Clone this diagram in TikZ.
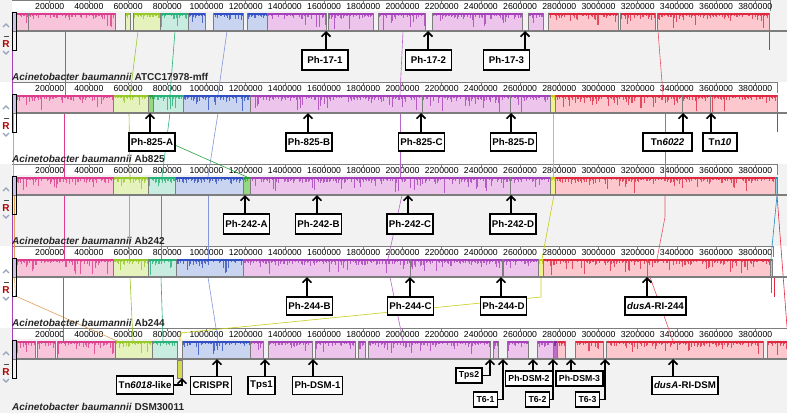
\documentclass[tikz,border=0pt]{standalone}
\usepackage{fontspec}
\setmainfont{Liberation Sans}
\usetikzlibrary{arrows.meta}

\definecolor{pkF}{RGB}{248,196,218}
\definecolor{pkD}{RGB}{222,60,140}
\definecolor{ygF}{RGB}{230,242,188}
\definecolor{ygD}{RGB}{150,200,40}
\definecolor{gnF}{RGB}{150,215,130}
\definecolor{gnD}{RGB}{40,160,60}
\definecolor{tlF}{RGB}{200,236,224}
\definecolor{tlD}{RGB}{40,178,120}
\definecolor{blF}{RGB}{200,212,240}
\definecolor{blD}{RGB}{50,80,195}
\definecolor{ppF}{RGB}{236,196,236}
\definecolor{ppD}{RGB}{165,65,185}
\definecolor{dpF}{RGB}{190,110,200}
\definecolor{dpD}{RGB}{130,40,150}
\definecolor{ywF}{RGB}{240,240,140}
\definecolor{ywD}{RGB}{200,205,20}
\definecolor{rdF}{RGB}{252,200,206}
\definecolor{rdD}{RGB}{225,40,65}
\definecolor{cyF}{RGB}{150,210,230}
\definecolor{cyD}{RGB}{30,140,190}
\definecolor{tanD}{RGB}{225,160,90}
\definecolor{panel}{RGB}{242,242,242}
\definecolor{edge}{RGB}{125,125,125}
\definecolor{ctrl}{RGB}{150,160,190}
\definecolor{lcbL}{RGB}{205,195,230}

% one block of a genome track: track top, left, right, colour prefix
\newcommand{\lcb}[4]{%
  \fill[#4F] (#2,#1+13) rectangle (#3,#1+31);
  \fill[#4D] (#2,#1+13) rectangle (#3,#1+15);
  \pgfmathtruncatemacro\nsp{max(1,(#3-#2)/1.5)}
  \foreach \k in {1,...,\nsp}{
    \pgfmathsetmacro\sx{#2+1.5*\k-0.75}
    \pgfmathsetmacro\sl{1+4*rnd^2+12*rnd^9}
    \draw[#4D, line width=0.35pt, opacity=0.8] (\sx,#1+14) -- ++(0,\sl);
  }
  \draw[edge, line width=0.6pt] (#2,#1+13) -- (#2,#1+31) (#3,#1+13) -- (#3,#1+31);
}

% ruler of a track: track top, right end
\newcommand{\ruler}[2]{%
  \fill[white] (12,#1) rectangle (#2,#1+11);
  \draw[edge, line width=0.8pt] (12,#1+0.4) -- (#2,#1+0.4) -- (#2,#1+11);
  \foreach \k in {1,...,19}{
    \draw[edge, line width=0.5pt] ({10.5+39.2*\k},#1) -- ++(0,3);
    \node[num] (n#1-\k) at ({10.5+39.2*\k},#1+6.5) {\number\numexpr\k*200000\relax};
  }
}

% buttons at the left of a track
\newcommand{\ctrls}[1]{%
  \draw[ctrl, line width=1.2pt] (3,#1+27) -- (6,#1+24) -- (9,#1+27);
  \draw[black!70, line width=0.9pt] (3.5,#1+36) -- (8.5,#1+36);
  \node[font=\fontsize{10}{10}\selectfont\bfseries, text=red!70!black, inner sep=0pt] (ctl#1) at (6,#1+44) {R};
  \draw[ctrl, line width=1.2pt] (3,#1+51) -- (6,#1+54) -- (9,#1+51);
  \fill[lcbL] (12,#1+13) rectangle (16,#1+31);
  \draw[line width=0.6pt] (12,#1+12) rectangle (16,#1+50);
}

\begin{document}
\begin{tikzpicture}[x=1pt, y=-1pt,
  lbl/.style={draw, line width=1.5pt, fill=white, font=\fontsize{9.7}{11}\selectfont\bfseries, inner xsep=2pt, inner ysep=0pt, minimum height=18pt},
  lbls/.style={lbl, font=\fontsize{8.7}{10}\selectfont\bfseries, inner xsep=3pt, minimum height=15pt},
  arr/.style={line width=1.6pt, -{Straight Barb[length=4.5pt,width=9pt]}},
  lk/.style={line width=0.6pt},
  spc/.style={anchor=base west, inner sep=0pt, font=\fontsize{10}{12}\selectfont\bfseries, text=black!85},
  num/.style={font=\fontsize{8.7}{10}\selectfont, inner sep=0pt}
]
\useasboundingbox (0,0) rectangle (787,413);
\pgfmathsetseed{11}

% panels
\fill[white] (0,0) rectangle (787,413);
\fill[panel] (0,0) rectangle (787,82);
\fill[panel] (0,164) rectangle (787,246);
\fill[panel] (0,328) rectangle (787,413);

% rulers
\ruler{0}{770}
\ruler{82}{777}
\ruler{164}{777}
\ruler{246}{773}
\ruler{328}{787}

% connecting lines 1 -> 2
\draw[lk, ppD] (12.5,31) -- (12.5,95);
\draw[lk, pkD] (65,31) -- (65,95);
\draw[lk, ygD] (138,31) -- (130,95);
\draw[lk, tlD] (175,31) -- (170,95);
\draw[lk, blD!60] (227,31) -- (218,95);
\draw[lk, ppD!80] (403,31) -- (400,95);
\draw[lk, rdD!80] (658,31) -- (663,95);
\draw[lk, rdD] (769,31) -- (769,50);
% connecting lines 2 -> 3
\draw[lk, tanD] (13.5,113) -- (13.5,177);
\draw[lk, pkD] (64,113) -- (64,177);
\draw[lk, ygD] (129,113) -- (130,177);
\draw[lk, tlD] (170,113) -- (162,177);
\draw[lk, blD!60] (218,113) -- (208,177);
\draw[lk, gnD] (150,113) -- (150,134) -- (247,177);
\draw[lk, ppD!80] (400,113) -- (400,177);
\draw[lk, ywD] (553,113) -- (553,177);
\draw[lk, rdD!80] (665,113) -- (665,177);
\draw[lk, rdD] (777,113) -- (777,132);
% connecting lines 3 -> 4
\draw[lk, ppD] (12.5,195) -- (12.5,259);
\draw[lk, tanD] (14.5,195) -- (14.5,259);
\draw[lk, pkD] (64,195) -- (64,259);
\draw[lk, ygD] (129,195) -- (129,259);
\draw[lk, tlD] (161,195) -- (161,259);
\draw[lk, blD!60] (208,195) -- (208,259);
\draw[lk, ppD!80] (402,195) -- (388,259);
\draw[lk, ywD] (554,195) -- (542,259);
\draw[lk, rdD!80] (665,195) -- (665,217) -- (657,259);
\draw[lk, cyD] (777,195) -- (772,247) -- (771,259);
\draw[lk, rdD] (777,195) -- (787,327);
% connecting lines 4 -> 5
\draw[lk, ppD] (12.5,277) -- (12.5,341);
\draw[lk, tanD] (14.5,277) -- (15.5,296) -- (117,341);
\draw[lk, pkD] (63,277) -- (63,341);
\draw[lk, ygD] (130,277) -- (133,341);
\draw[lk, tlD] (161,277) -- (163,341);
\draw[lk, blD!60] (208,277) -- (218,341);
\draw[lk, ppD!80] (390,277) -- (403,341);
\draw[lk, ywD] (541,277) -- (541,297) -- (180,333) -- (180,341);
\draw[lk, rdD!80] (650,277) -- (673,341);
\draw[lk, cyD] (771,277) -- (771,293);
\draw[lk, rdD] (774,277) -- (774,297);

% track 1: ATCC17978-mff
\lcb{0}{13}{28}{pk} \lcb{0}{28}{115}{pk}
\lcb{0}{125}{130}{yg} \lcb{0}{133}{160}{yg}
\lcb{0}{160}{188}{tl}
\lcb{0}{188}{205}{bl} \lcb{0}{213}{243}{bl} \lcb{0}{247}{267}{bl}
\lcb{0}{267}{326}{pp} \lcb{0}{328.5}{373}{pp} \lcb{0}{378}{425}{pp}
\lcb{0}{432}{522}{pp} \lcb{0}{528}{543}{pp}
\lcb{0}{548}{618}{rd} \lcb{0}{620}{655}{rd} \lcb{0}{657}{769}{rd}
\draw[edge, line width=1.4pt] (12,31) -- (787,31);

% track 2: Ab825
\lcb{82}{15}{113}{pk}
\lcb{82}{113}{148}{yg} \lcb{82}{148}{153}{gn}
\lcb{82}{153}{183}{tl}
\lcb{82}{183}{250}{bl}
\lcb{82}{250}{422}{pp} \lcb{82}{422}{510}{pp} \lcb{82}{510}{550}{pp}
\lcb{82}{550}{555}{yw}
\lcb{82}{555}{682}{rd} \lcb{82}{682}{710}{rd} \lcb{82}{710}{777}{rd}
\draw[edge, line width=1.4pt] (12,113) -- (787,113);

% track 3: Ab242
\lcb{164}{13}{113}{pk}
\lcb{164}{113}{148}{yg}
\lcb{164}{148}{175}{tl}
\lcb{164}{175}{243}{bl} \lcb{164}{243}{250}{gn}
\lcb{164}{250}{510}{pp} \lcb{164}{510}{550}{pp}
\lcb{164}{550}{555}{yw}
\lcb{164}{555}{775}{rd} \lcb{164}{775}{777}{cy}
\draw[edge, line width=1.4pt] (12,195) -- (787,195);

% track 4: Ab244
\lcb{246}{13}{113}{pk}
\lcb{246}{113}{148}{yg}
\lcb{246}{148}{176}{tl}
\lcb{246}{176}{243}{bl}
\lcb{246}{243}{410}{pp} \lcb{246}{410}{502}{pp} \lcb{246}{503.5}{538}{pp}
\lcb{246}{538}{543}{yw}
\lcb{246}{543}{647}{rd} \lcb{246}{647}{770}{rd} \lcb{246}{770}{772}{cy}
\draw[edge, line width=1.4pt] (12,277) -- (787,277);

% track 5: DSM30011
\lcb{328}{12}{35}{pk} \lcb{328}{37}{55}{pk} \lcb{328}{57}{115}{pk}
\lcb{328}{115}{152}{yg}
\lcb{328}{152}{177}{tl}
\lcb{328}{182}{250}{bl}
\lcb{328}{250}{263}{pp} \lcb{328}{268}{312}{pp} \lcb{328}{315}{355}{pp}
\lcb{328}{358}{365}{pp} \lcb{328}{368}{490}{pp} \lcb{328}{493}{498}{pp}
\lcb{328}{507}{528}{pp} \lcb{328}{537}{553}{pp} \lcb{328}{553}{557}{dp}
\lcb{328}{557}{565}{rd} \lcb{328}{575}{603}{rd} \lcb{328}{606}{763}{rd}
\lcb{328}{767}{787}{rd}
\draw[edge, line width=1.4pt] (12,359) -- (787,359);
\fill[ywD!75] (177,360) rectangle (182,378);
\draw[edge, line width=0.6pt] (177,360) rectangle (182,378);

% buttons
\ctrls{0} \ctrls{82} \ctrls{164} \ctrls{246} \ctrls{328}

% genome names
\node[spc] (g17978) at (12,80.5) {\textit{Acinetobacter baumannii} ATCC17978-mff};
\node[spc] (g825) at (12,162.5) {\textit{Acinetobacter baumannii} Ab825};
\node[spc] (g242) at (12,244.5) {\textit{Acinetobacter baumannii} Ab242};
\node[spc] (g244) at (12,326.5) {\textit{Acinetobacter baumannii} Ab244};
\node[spc] (gdsm) at (12,410) {\textit{Acinetobacter baumannii} DSM30011};

% sites on the tracks
\coordinate (s171) at (326,31);
\coordinate (s172) at (428,31);
\coordinate (s173) at (525,31);
\coordinate (s825a) at (150,113);
\coordinate (s825b) at (308,113);
\coordinate (s825c) at (421,113);
\coordinate (s825d) at (511,113);
\coordinate (s6022) at (683,113);
\coordinate (s10) at (711,113);
\coordinate (s242a) at (245,195);
\coordinate (s242b) at (317,195);
\coordinate (s242c) at (408,195);
\coordinate (s242d) at (511,195);
\coordinate (s244b) at (307,277);
\coordinate (s244c) at (410,277);
\coordinate (s244d) at (501,277);
\coordinate (s244dus) at (647,277);
\coordinate (s6018) at (182,378);
\coordinate (scrispr) at (217,359);
\coordinate (stps1) at (265,359);
\coordinate (sdsm1) at (313,359);
\coordinate (stps2) at (490,359);
\coordinate (st61) at (503,359);
\coordinate (sdsm2) at (533,359);
\coordinate (st62) at (553,359);
\coordinate (sdsm3) at (571,359);
\coordinate (st63) at (605,359);
\coordinate (sdusdsm) at (673,359);

% labels of track 1
\node[lbl, minimum height=20pt, minimum width=46pt] (b171) at (325,60) {Ph-17-1};
\node[lbl, minimum height=20pt, minimum width=46pt] (b172) at (428.5,60) {Ph-17-2};
\node[lbl, minimum height=20pt, minimum width=46pt] (b173) at (506.5,60) {Ph-17-3};
% labels of track 2
\node[lbl] (b825a) at (152,142) {Ph-825-A};
\node[lbl] (b825b) at (309,142) {Ph-825-B};
\node[lbl] (b825c) at (421.5,142) {Ph-825-C};
\node[lbl] (b825d) at (513.5,142) {Ph-825-D};
\node[lbl, minimum width=49pt] (b6022) at (667.5,142) {Tn\textit{6022}};
\node[lbl, minimum width=34pt] (b10) at (720,142) {Tn\textit{10}};
% labels of track 3
\node[lbl, minimum height=20pt] (b242a) at (246.5,224) {Ph-242-A};
\node[lbl, minimum height=20pt] (b242b) at (318.5,224) {Ph-242-B};
\node[lbl, minimum height=20pt] (b242c) at (410,224) {Ph-242-C};
\node[lbl, minimum height=20pt] (b242d) at (513,224) {Ph-242-D};
% labels of track 4
\node[lbl] (b244b) at (309.5,306) {Ph-244-B};
\node[lbl] (b244c) at (410.5,306) {Ph-244-C};
\node[lbl] (b244d) at (503.5,306) {Ph-244-D};
\node[lbl] (b244dus) at (655.5,306) {\textit{dusA}-RI-244};
% labels of track 5
\node[lbl] (b6018) at (145,385) {Tn\textit{6018}-like};
\node[lbl] (bcrispr) at (211,385.5) {CRISPR};
\node[lbl] (btps1) at (261.5,385.5) {Tps1};
\node[lbl] (bdsm1) at (317.5,385.5) {Ph-DSM-1};
\node[lbls] (btps2) at (469,375.5) {Tps2};
\node[lbls] (bt61) at (485.5,399.5) {T6-1};
\node[lbls] (bdsm2) at (529,378.5) {Ph-DSM-2};
\node[lbls] (bt62) at (537.5,399.5) {T6-2};
\node[lbls] (bdsm3) at (579.5,378.5) {Ph-DSM-3};
\node[lbls] (bt63) at (587.5,399.5) {T6-3};
\node[lbl] (bdusdsm) at (685,385.5) {\textit{dusA}-RI-DSM};

% arrows to the sites
\draw[arr] (b171.north -| s171) -- (s171);
\draw[arr] (b172.north -| s172) -- (s172);
\draw[arr] (b173.north -| s173) -- (s173);
\draw[arr] (b825a.north -| s825a) -- (s825a);
\draw[arr] (b825b.north -| s825b) -- (s825b);
\draw[arr] (b825c.north -| s825c) -- (s825c);
\draw[arr] (b825d.north -| s825d) -- (s825d);
\draw[arr] (b6022.north -| s6022) -- (s6022);
\draw[arr] (b10.north -| s10) -- (s10);
\draw[arr] (b242a.north -| s242a) -- (s242a);
\draw[arr] (b242b.north -| s242b) -- (s242b);
\draw[arr] (b242c.north -| s242c) -- (s242c);
\draw[arr] (b242d.north -| s242d) -- (s242d);
\draw[arr] (b244b.north -| s244b) -- (s244b);
\draw[arr] (b244c.north -| s244c) -- (s244c);
\draw[arr] (b244d.north -| s244d) -- (s244d);
\draw[arr] (b244dus.north -| s244dus) -- (s244dus);
\draw[arr] (b6018.east) -| (s6018);
\draw[arr] (bcrispr.north -| scrispr) -- (scrispr);
\draw[arr] (btps1.north -| stps1) -- (stps1);
\draw[arr] (bdsm1.north -| sdsm1) -- (sdsm1);
\draw[arr] (btps2.east) -| (stps2);
\draw[arr] (bt61.east) -| (st61);
\draw[arr] (bdsm2.north -| sdsm2) -- (sdsm2);
\draw[arr] (bt62.east) -| (st62);
\draw[arr] (bdsm3.north -| sdsm3) -- (sdsm3);
\draw[arr] (bt63.east) -| (st63);
\draw[arr] (bdusdsm.north -| sdusdsm) -- (sdusdsm);

\end{tikzpicture}
\end{document}
